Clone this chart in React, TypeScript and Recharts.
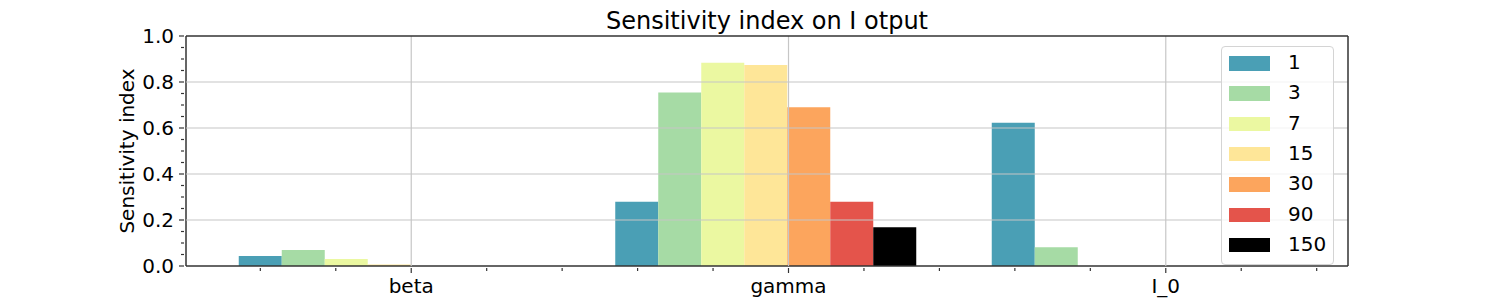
import { BarChart, Bar, XAxis, YAxis, ReferenceLine } from "recharts";

/* ── data ─────────────────────────────────────────────── */
const categories = ["beta", "gamma", "I_0"];
const seriesNames = ["1", "3", "7", "15", "30", "90", "150"];
const seriesColors = ["#4a9fb5", "#a6dba5", "#ebf8a1", "#fee698", "#fca55d", "#e4544b", "#000000"];

const v1 = [0.043, 0.279, 0.623];
const v3 = [0.07, 0.754, 0.081];
const v7 = [0.03, 0.884, 0.0];
const v15 = [0.007, 0.874, 0.0];
const v30 = [0.0, 0.69, 0.0];
const v90 = [0.0, 0.279, 0.0];
const v150 = [0.0, 0.168, 0.0];
const seriesValues = [v1, v3, v7, v15, v30, v90, v150];

const yTicks = [0, 0.05, 0.1, 0.15, 0.2, 0.25, 0.3, 0.35, 0.4, 0.45, 0.5, 0.55, 0.6, 0.65, 0.7, 0.75, 0.8, 0.85, 0.9, 0.95, 1.0];
const xTicks = [-0.4, -0.2, 0, 0.2, 0.4, 0.6, 0.8, 1, 1.2, 1.4, 1.6, 1.8, 2, 2.2, 2.4];
const xGrid = [0, 1, 2];
const yGrid = [0.2, 0.4, 0.6, 0.8];
const xDomain = [-0.597, 2.483];

const rows = categories.map((name, i) => {
  const row: Record<string, string | number> = { name, idx: i };
  seriesNames.forEach((s, k) => {
    row["s" + s] = seriesValues[k][i];
  });
  return row;
});

const FONT = "DejaVu Sans";
const SPINE = "#333333";
const GRID = "#c6c6c6";

function XTick({ x, y, payload }: any) {
  const v = payload.value;
  const major = Math.abs(v - Math.round(v)) < 1e-6;
  return (
    <g>
      <line x1={x} x2={x} y1={y} y2={y + (major ? 5 : 3)} stroke={SPINE} strokeWidth={1.2} />
      {major && (
        <text x={x} y={y + 25} textAnchor="middle" fontSize={20} fontFamily={FONT} fill="#000">
          {categories[Math.round(v)]}
        </text>
      )}
    </g>
  );
}

function YTick({ x, y, payload }: any) {
  const v = payload.value;
  const major = Math.abs(v * 5 - Math.round(v * 5)) < 1e-6;
  return (
    <g>
      <line x1={x} x2={x - (major ? 5 : 3)} y1={y} y2={y} stroke={SPINE} strokeWidth={1.2} />
      {major && (
        <text x={x - 10} y={y} dy="0.36em" textAnchor="end" fontSize={20} fontFamily={FONT} fill="#000">
          {v.toFixed(1)}
        </text>
      )}
    </g>
  );
}

export default function App() {
  return (
    <div style={{ position: "absolute", left: 0, top: 0, width: 1495, height: 299, background: "#fff", fontFamily: FONT }}>
      <BarChart
        width={1495}
        height={299}
        data={rows}
        margin={{ top: 36, right: 147, bottom: 0, left: 0 }}
        barGap={0}
        barSize={43}
      >
        <XAxis
          xAxisId="num"
          dataKey="idx"
          type="number"
          domain={xDomain}
          allowDataOverflow
          ticks={xTicks}
          interval={0}
          height={33}
          tickSize={0}
          tickLine={false}
          tick={<XTick />}
          axisLine={{ stroke: SPINE, strokeWidth: 1.5 }}
        />
        <XAxis xAxisId="cat" dataKey="name" hide height={0} padding={{ left: 36.75, right: -4.25 }} />
        <YAxis
          type="number"
          domain={[0, 1]}
          ticks={yTicks}
          interval={0}
          width={186}
          tickSize={0}
          tickLine={false}
          tick={<YTick />}
          axisLine={{ stroke: SPINE, strokeWidth: 1.5 }}
        />
        {seriesNames.map((s, k) => (
          <Bar key={s} xAxisId="cat" dataKey={"s" + s} fill={seriesColors[k]} isAnimationActive={false} />
        ))}
        <Bar xAxisId="cat" dataKey="pad" fill="none" isAnimationActive={false} />
        {xGrid.map((g) => (
          <ReferenceLine key={"x" + g} xAxisId="num" x={g} stroke={GRID} strokeWidth={1.2} zIndex={1000} />
        ))}
        {yGrid.map((g) => (
          <ReferenceLine key={"y" + g} xAxisId="num" y={g} stroke={GRID} strokeWidth={1.2} zIndex={1000} />
        ))}
        <ReferenceLine xAxisId="num" y={1} stroke={SPINE} strokeWidth={1.5} zIndex={1001} />
        <ReferenceLine xAxisId="num" x={xDomain[1]} stroke={SPINE} strokeWidth={1.5} zIndex={1001} />
      </BarChart>

      <div
        style={{
          position: "absolute",
          left: 186,
          width: 1162,
          top: 9,
          textAlign: "center",
          fontSize: 24,
          lineHeight: "24px",
          color: "#000",
        }}
      >
        Sensitivity index on I otput
      </div>

      <div
        style={{
          position: "absolute",
          left: 127,
          top: 151,
          transform: "translate(-50%, -50%) rotate(-90deg)",
          whiteSpace: "nowrap",
          fontSize: 20,
          lineHeight: "20px",
          color: "#000",
        }}
      >
        Sensitivity index
      </div>

      <div
        style={{
          position: "absolute",
          left: 1221,
          top: 46,
          width: 113,
          height: 219,
          boxSizing: "border-box",
          border: "1px solid #d4d4d4",
          borderRadius: 4,
          background: "rgba(255,255,255,0.8)",
        }}
      >
        {seriesNames.map((s, k) => (
          <div key={s} style={{ position: "absolute", left: 0, top: 16 + k * 30.3, width: "100%" }}>
            <div
              style={{
                position: "absolute",
                left: 7,
                top: -7,
                width: 41,
                height: 14.5,
                background: seriesColors[k],
              }}
            />
            <div
              style={{
                position: "absolute",
                left: 66,
                top: -11,
                fontSize: 20,
                lineHeight: "20px",
                color: "#000",
                whiteSpace: "nowrap",
              }}
            >
              {s}
            </div>
          </div>
        ))}
      </div>
    </div>
  );
}
